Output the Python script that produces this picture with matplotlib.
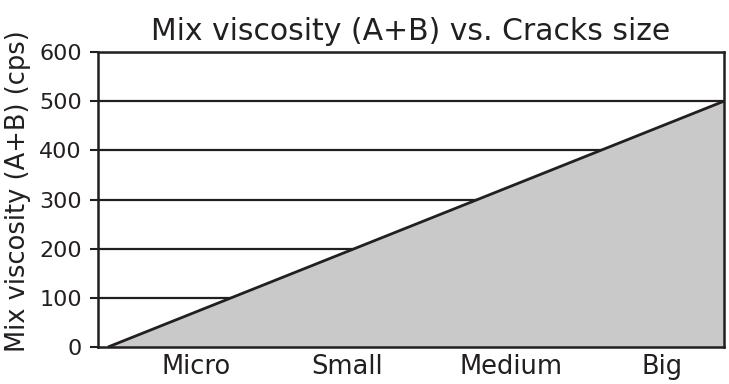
import matplotlib
matplotlib.use("Agg")
import matplotlib.pyplot as plt

categories = ["Micro", "Small", "Medium", "Big"]
line_x = [0, 4]
line_y = [0, 500]
yticks = [0, 100, 200, 300, 400, 500, 600]

plt.rcParams['font.family'] = ['DejaVu Sans']
dark = "#231f20"

fig = plt.figure(figsize=(7.29, 3.84), dpi=100)
ax = fig.add_axes([98/729, 1-347/384, (724-98)/729, (347-52)/384])

ax.fill_between(line_x, line_y, 0, color="#c8c9c8", zorder=2, linewidth=0)
ax.plot(line_x, line_y, color=dark, lw=2.0, zorder=3, solid_capstyle='butt')
for y in yticks[1:]:
    ax.axhline(y, color=dark, lw=1.6, zorder=1)

ax.set_xlim(-0.065, 4)
ax.set_ylim(0, 600)
ax.set_yticks(yticks)
ax.set_xticks([0.57, 1.55, 2.62, 3.6])
ax.set_xticklabels(categories)
ax.tick_params(axis='x', length=0, pad=5, labelsize=18.5, colors=dark)
ax.tick_params(axis='y', length=5.5, width=1.5, pad=6, labelsize=16, colors=dark, direction='out')
for s in ['left', 'bottom', 'right', 'top']:
    ax.spines[s].set_color(dark)
    ax.spines[s].set_linewidth(1.8)
    ax.spines[s].set_zorder(4)
ax.set_ylabel("Mix viscosity (A+B) (cps)", fontsize=18.5, color=dark, labelpad=6)
ax.yaxis.label.set_y(0.53)
ax.set_title("Mix viscosity (A+B) vs. Cracks size", fontsize=21.5, color=dark, pad=9)

fig.savefig("out.png", dpi=100)
